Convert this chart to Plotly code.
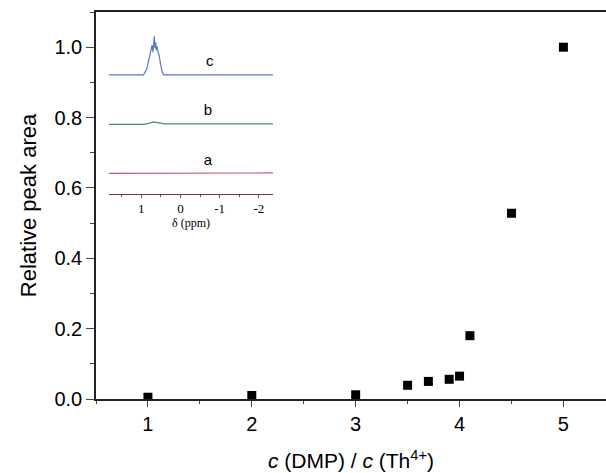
import plotly.graph_objects as go

# main data: relative peak area vs c(DMP)/c(Th4+)
ratio = [1.0, 2.0, 3.0, 3.5, 3.7, 3.9, 4.0, 4.1, 4.5, 5.0]
peak_area = [0.005, 0.010, 0.012, 0.039, 0.050, 0.056, 0.065, 0.180, 0.528, 1.000]

# inset spectra (chemical shift in ppm, intensity in arbitrary units)
ppm_c = [1.82, 0.94, 0.86, 0.79, 0.75, 0.72, 0.70, 0.68, 0.665, 0.65, 0.63, 0.615, 0.60, 0.57, 0.54, 0.51, 0.47, 0.43, -2.36]
int_c = [118.5, 118.5, 124, 135, 141, 148, 141, 150, 157, 145, 151, 143, 147, 141, 138, 130, 122, 118.5, 118.5]
ppm_b = [1.82, 0.95, 0.80, 0.69, 0.55, 0.40, -2.36]
int_b = [69, 69, 70, 71.5, 70.5, 69.5, 69.5]
ppm_a = [1.82, -2.36]
int_a = [20, 20.5]
spec_labels = ["c", "b", "a"]
label_ppm = [-0.75, -0.7, -0.7]
label_int = [131, 82, 32]

fig = go.Figure()

fig.add_trace(go.Scatter(
    x=ratio, y=peak_area, mode="markers",
    marker=dict(symbol="square", size=9, color="black"),
    showlegend=False
))

fig.add_trace(go.Scatter(x=ppm_c, y=int_c, mode="lines", line=dict(color="#5578c2", width=1.2),
                         xaxis="x2", yaxis="y2", showlegend=False))
fig.add_trace(go.Scatter(x=ppm_b, y=int_b, mode="lines", line=dict(color="#4d8a70", width=1.2),
                         xaxis="x2", yaxis="y2", showlegend=False))
fig.add_trace(go.Scatter(x=ppm_a, y=int_a, mode="lines", line=dict(color="#c25a70", width=1.2),
                         xaxis="x2", yaxis="y2", showlegend=False))
fig.add_trace(go.Scatter(x=label_ppm, y=label_int, mode="text", text=spec_labels,
                         textfont=dict(family="Arial", size=15, color="black"),
                         xaxis="x2", yaxis="y2", showlegend=False))

fig.update_layout(
    width=606, height=473,
    margin=dict(l=96, r=0, t=12, b=74),
    plot_bgcolor="white", paper_bgcolor="white",
    font=dict(family="Arial", color="black"),
    xaxis=dict(
        range=[0.5, 5.41], tickvals=[1, 2, 3, 4, 5], ticks="outside", ticklen=6,
        minor=dict(dtick=0.5, tick0=0.5, ticks="outside", ticklen=3),
        showline=True, linecolor="#222", linewidth=1.5, mirror=True,
        showgrid=False, zeroline=False, tickfont=dict(size=20), automargin=False,
        title=dict(text="<i>c</i> (DMP) / <i>c</i> (Th<sup>4+</sup>)", font=dict(size=21), standoff=20),
    ),
    yaxis=dict(
        range=[0, 1.1], tickvals=[0, 0.2, 0.4, 0.6, 0.8, 1.0], tickformat=".1f",
        ticks="outside", ticklen=8,
        minor=dict(dtick=0.1, tick0=0, ticks="outside", ticklen=4),
        showline=True, linecolor="#222", linewidth=1.5,
        showgrid=False, zeroline=False, tickfont=dict(size=20), automargin=False,
        title=dict(text="Relative peak area", font=dict(size=22), standoff=12),
    ),
    xaxis2=dict(
        domain=[0.0255, 0.347], anchor="y2", range=[1.82, -2.36],
        tickvals=[1, 0, -1, -2], ticktext=["1", "0", "-1", "-2"], ticks="outside", ticklen=3,
        minor=dict(dtick=0.5, tick0=0.5, ticks="outside", ticklen=2),
        showline=True, linecolor="#8e2a45", linewidth=1.2, tickcolor="#555",
        showgrid=False, zeroline=False, automargin=False,
        tickfont=dict(family="Liberation Serif", size=13),
        title=dict(text="δ (ppm)", font=dict(family="Liberation Serif", size=12, color="black"), standoff=0),
    ),
    yaxis2=dict(
        domain=[0.531, 0.953], anchor="x2", range=[0, 163],
        showticklabels=False, ticks="", showline=False,
        showgrid=False, zeroline=False, automargin=False,
    ),
)

# page body has a default 8px margin, drop it so the figure sits at the corner
fig.write_html("out.html", config={"displayModeBar": False},
               post_script="document.body.style.margin='0px';")
